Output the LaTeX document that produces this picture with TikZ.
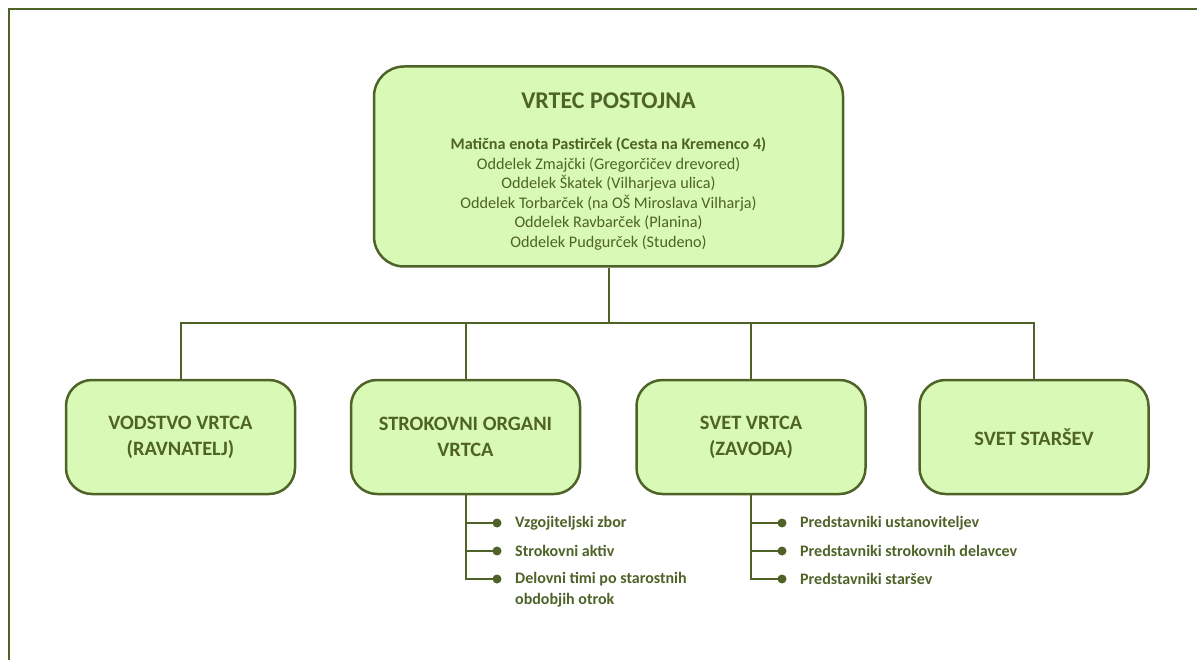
\documentclass[tikz,border=0pt]{standalone}
\usepackage{fontspec}
\setmainfont{Carlito}
\definecolor{dkolive}{HTML}{4F6228}
\definecolor{boxfill}{RGB}{216,250,182}
\begin{document}
\begin{tikzpicture}[x=1pt,y=-1pt,
  frame/.style={draw=dkolive,line width=2pt},
  bigbox/.style={draw=dkolive,fill=boxfill,line width=2.5pt,rounded corners=30pt,
    minimum width=469pt,minimum height=200pt,inner sep=0pt},
  subbox/.style={draw=dkolive,fill=boxfill,line width=2.5pt,rounded corners=26pt,
    minimum width=229pt,minimum height=114pt,inner sep=0pt,align=center,
    text=dkolive,font=\bfseries\fontsize{20.4}{26}\selectfont},
  txt/.style={text=dkolive,inner sep=0pt},
  conn/.style={draw=dkolive,line width=2pt},
  dot/.style={circle,fill=dkolive,inner sep=0pt,minimum size=9pt},
  item/.style={text=dkolive,inner sep=0pt,anchor=west,align=left,
    font=\bfseries\fontsize{16}{21}\selectfont}]
\useasboundingbox (0,0) rectangle (1197,660);
\draw[frame] (9,661) -- (9,9.5) -- (1198,9.5);

% main box
\node[bigbox] (main) at (608.5,166.5) {};
\node[txt,font=\bfseries\fontsize{24}{28}\selectfont] (title) at (608.5,101) {VRTEC POSTOJNA};
\node[txt,align=center,font=\fontsize{16.2}{19.5}\selectfont] (units) at (608.5,194)
  {\textbf{Matična enota Pastirček (Cesta na Kremenco 4)}\\
   Oddelek Zmajčki (Gregorčičev drevored)\\
   Oddelek Škatek (Vilharjeva ulica)\\
   Oddelek Torbarček (na OŠ Miroslava Vilharja)\\
   Oddelek Ravbarček (Planina)\\
   Oddelek Pudgurček (Studeno)};

% lower boxes
\node[subbox] (b1) at (180.5,437) {VODSTVO VRTCA\\(RAVNATELJ)};
\node[subbox] (b2) at (465.5,437) {STROKOVNI ORGANI\\VRTCA};
\node[subbox] (b3) at (751,437) {SVET VRTCA\\(ZAVODA)};
\node[subbox] (b4) at (1034,437) {SVET STARŠEV};

% connectors
\coordinate (bus) at (608.5,323);
\draw[conn] (main.south) -- (bus);
\draw[conn] (b1.north) |- (bus) -| (b4.north);
\draw[conn] (b2.north) -- (b2.north |- bus);
\draw[conn] (b3.north) -- (b3.north |- bus);

% sub items of b2
\node[dot] (d1) at (497,523) {};
\node[dot] (d2) at (497,551) {};
\node[dot] (d3) at (497,579) {};
\draw[conn] (b2.south) |- (d3.center);
\draw[conn] (b2.south |- d1) -- (d1.center);
\draw[conn] (b2.south |- d2) -- (d2.center);
\node[item] (i1) at (515,523) {Vzgojiteljski zbor};
\node[item] (i2) at (515,551) {Strokovni aktiv};
\node[item] (i3) at (515,589.5) {Delovni timi po starostnih\\obdobjih otrok};

% sub items of b3
\node[dot] (e1) at (782,523) {};
\node[dot] (e2) at (782,551) {};
\node[dot] (e3) at (782,579) {};
\draw[conn] (b3.south) |- (e3.center);
\draw[conn] (b3.south |- e1) -- (e1.center);
\draw[conn] (b3.south |- e2) -- (e2.center);
\node[item] (j1) at (800,523) {Predstavniki ustanoviteljev};
\node[item] (j2) at (800,551) {Predstavniki strokovnih delavcev};
\node[item] (j3) at (800,579) {Predstavniki staršev};
\end{tikzpicture}
\end{document}
